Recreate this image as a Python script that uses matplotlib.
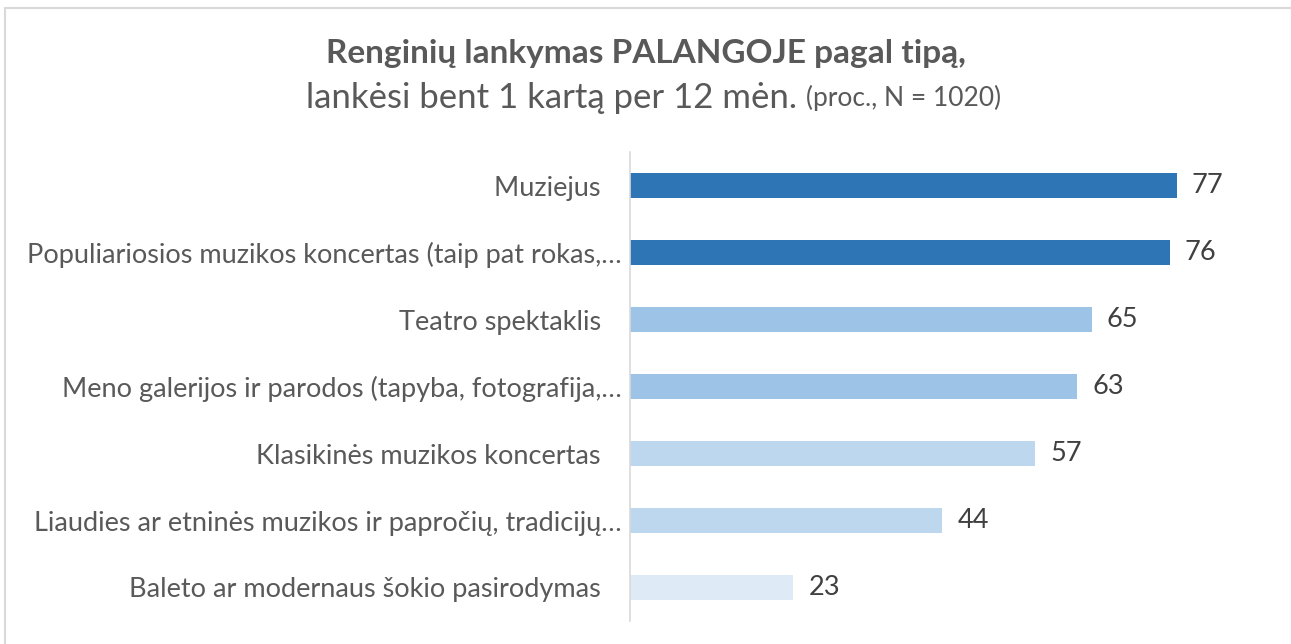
import matplotlib.pyplot as plt
from matplotlib.patches import Rectangle

# data
categories = ['Muziejus   ',
              'Populiariosios muzikos koncertas (taip pat rokas,…',
              'Teatro spektaklis   ',
              'Meno galerijos ir parodos (tapyba, fotografija,…',
              'Klasikinės muzikos koncertas   ',
              'Liaudies ar etninės muzikos ir papročių, tradicijų…',
              'Baleto ar modernaus šokio pasirodymas   ']
values = [77, 76, 65, 63, 57, 44, 23]
bar_colors = ['#2E75B6', '#2E75B6', '#9DC3E6', '#9DC3E6',
              '#BDD7EE', '#BDD7EE', '#DEEBF7']

plt.rcParams['font.family'] = ['Lato', 'DejaVu Sans']

W, H = 1291, 644
fig = plt.figure(figsize=(W / 100, H / 100), dpi=100)

# light frame like the Excel chart area
fig.patches.append(Rectangle((5 / W, -0.1), 1.2, (H - 8) / H + 0.1,
                             transform=fig.transFigure, fill=False,
                             edgecolor='#d9d9d9', linewidth=1.5))

ax = fig.add_axes([630 / W, 23 / H, 620 / W, 469 / H])
y = list(range(len(values)))
ax.barh(y, values, height=0.36, color=bar_colors)
ax.set_ylim(len(values) - 0.5, -0.5)
ax.set_xlim(0, 620 / 7.1)
ax.set_yticks(y)
ax.set_yticklabels(categories, fontsize=19.5, color='#595959')
ax.tick_params(axis='y', length=0, pad=6)
ax.set_xticks([])
for s in ['top', 'right', 'bottom']:
    ax.spines[s].set_visible(False)
ax.spines['left'].set_color('#d9d9d9')
ax.spines['left'].set_linewidth(1.2)

for i, v in enumerate(values):
    ax.annotate(str(v), (v, i), xytext=(11, 0), textcoords='offset points',
                ha='left', va='center', fontsize=19.5, color='#404040')

# title
fig.text(0.5, 1 - 53 / H, 'Renginių lankymas PALANGOJE pagal tipą,',
         ha='center', va='center', fontsize=24, fontweight='bold', color='#595959')

renderer = fig.canvas.get_renderer()
t1 = fig.text(0, 1 - 98 / H, 'lankėsi bent 1 kartą per 12 mėn. ',
              ha='left', va='center', fontsize=25, color='#595959')
t2 = fig.text(0, 1 - 98 / H, '(proc., N = 1020)',
              ha='left', va='center', fontsize=19, color='#595959')
w1 = t1.get_window_extent(renderer).width
w2 = t2.get_window_extent(renderer).width
x0 = (W - (w1 + w2)) / 2 + 8
t1.set_x(x0 / W)
t2.set_x((x0 + w1) / W)

fig.savefig('out.png', dpi=100)
